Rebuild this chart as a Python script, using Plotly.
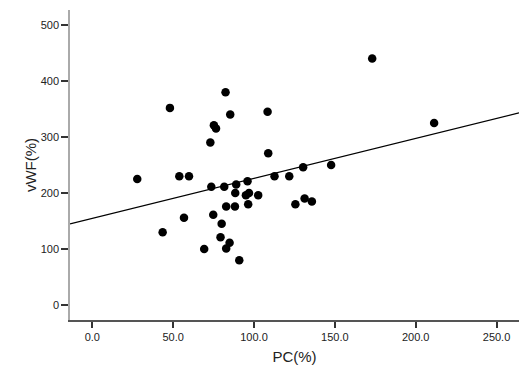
import numpy as np
import plotly.graph_objects as go

pc = [27.8, 43.5, 48.0, 53.8, 59.8, 56.7, 69.2, 73.0, 73.6, 74.8,
      75.2, 76.5, 79.3, 80.0, 81.6, 82.4, 82.8, 82.8, 84.9, 85.3,
      88.2, 88.4, 89.0, 90.9, 95.0, 96.0, 96.4, 96.9, 102.6, 108.4,
      108.8, 112.7, 121.8, 125.6, 130.4, 131.3, 135.8, 147.7, 173.1, 211.4]
vwf = [225, 130, 352, 230, 230, 156, 100, 290, 211, 161,
       321, 315, 121, 145, 211, 380, 176, 101, 111, 340,
       176, 200, 215, 80, 196, 221, 180, 200, 196, 345,
       271, 230, 230, 180, 246, 190, 185, 250, 440, 325]

x_ticks = [0, 50, 100, 150, 200, 250]
x_tick_labels = ["0.0", "50.0", "100.0", "150.0", "200.0", "250.0"]
y_ticks = [0, 100, 200, 300, 400, 500]
x_range = [-13.8, 263.9]
y_range = [-26.8, 526.8]

slope, intercept = np.polyfit(pc, vwf, 1)
fit_x = np.array(x_range)
fit_y = intercept + slope * fit_x

font = "Liberation Sans, Arial, sans-serif"
fig = go.Figure()
fig.add_trace(go.Scatter(x=fit_x, y=fit_y, mode="lines",
                         line=dict(color="black", width=1.2),
                         hoverinfo="skip", showlegend=False))
fig.add_trace(go.Scatter(x=pc, y=vwf, mode="markers",
                         marker=dict(color="black", size=8.5, line=dict(width=0)),
                         showlegend=False))

fig.update_layout(
    width=532, height=388,
    margin=dict(l=70, r=13, t=10, b=68, autoexpand=False),
    paper_bgcolor="white", plot_bgcolor="white",
    font=dict(family=font, size=11, color="#222"),
)
fig.update_xaxes(range=x_range, tickvals=x_ticks, ticktext=x_tick_labels,
                 automargin=False,
                 showgrid=False, zeroline=False, showline=True,
                 linecolor="#555", linewidth=1.5,
                 ticks="outside", ticklen=6, tickwidth=1.5, tickcolor="#333",
                 tickfont=dict(size=11, color="#222"),
                 title=dict(text="PC(%)", font=dict(size=15, color="#222"), standoff=10))
fig.update_yaxes(range=y_range, tickvals=y_ticks,
                 automargin=False,
                 showgrid=False, zeroline=False, showline=True,
                 linecolor="#aaa", linewidth=1.5,
                 ticks="outside", ticklen=7, tickwidth=1.5, tickcolor="#333",
                 tickfont=dict(size=11, color="#222"),
                 title=dict(text="vWF(%)", font=dict(size=15, color="#222"), standoff=0))

fig.write_html("out.html", config={"displayModeBar": False},
               post_script="document.body.style.margin='0';document.body.style.padding='0';")
